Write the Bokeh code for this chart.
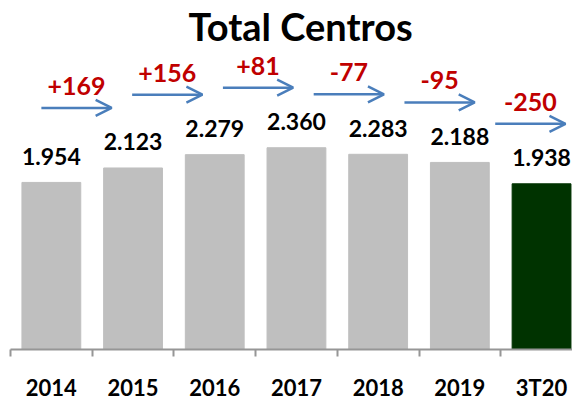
from bokeh.plotting import figure
from bokeh.models import Range1d, FixedTicker, ColumnDataSource, Arrow, OpenHead
from bokeh.core.properties import value
from bokeh.embed import file_html
from bokeh.resources import INLINE

# ---- data ----
categories = ["2014", "2015", "2016", "2017", "2018", "2019", "3T20"]
centros = [1954, 2123, 2279, 2360, 2283, 2188, 1938]
highlight = "3T20"

# ---- styling / layout ----
GRAY = "#BFBFBF"
GREEN = "#003300"
BLUE = "#4A7EBB"
RED = "#C00000"
AXIS_GRAY = "#969696"
FONT = "Lato"

PX_PER_CAT = 81.7
PX_PER_UNIT = 0.0855
FRAME_W = 562
FRAME_H = 301

n = len(categories)
xs = list(range(n))
colors = [GREEN if c == highlight else GRAY for c in categories]
labels = [f"{v:,}".replace(",", ".") for v in centros]
changes = [centros[i + 1] - centros[i] for i in range(n - 1)]
change_txt = [f"{d:+d}" for d in changes]

# arrows between consecutive bars (layout)
a_x0 = [i * 1.111 - 0.122 for i in range(n - 1)]
a_x1 = [x + 0.86 for x in a_x0]
a_y = [centros[i + 1] + 60 / PX_PER_UNIT for i in range(n - 1)]
a_mid = [(a + b) / 2 for a, b in zip(a_x0, a_x1)]

p = figure(
    frame_width=FRAME_W, frame_height=FRAME_H,
    x_range=Range1d(-0.5, -0.5 + FRAME_W / PX_PER_CAT),
    y_range=Range1d(0, FRAME_H / PX_PER_UNIT),
    output_backend="svg", toolbar_location=None,
    y_axis_location=None,
    min_border_left=10, min_border_right=0, min_border_top=0, min_border_bottom=0,
    title="Total Centros",
)
p.title.text_font = FONT
p.title.text_font_size = "38px"
p.title.text_font_style = "bold"
p.title.text_color = "black"
p.title.align = "left"
p.title.offset = 178
p.title.standoff = 0

p.xgrid.visible = False
p.ygrid.visible = False
p.outline_line_color = None
p.background_fill_color = "white"
p.border_fill_color = "white"

bars = ColumnDataSource(dict(x=xs, top=centros, color=colors, label=labels))
p.vbar(x="x", top="top", width=0.72, color="color", source=bars)
p.text(x="x", y="top", text="label", source=bars, text_align="center",
       text_baseline="middle", y_offset=-26, text_font=value(FONT),
       text_font_size="23px", text_font_style="bold", text_color="black")

arr = ColumnDataSource(dict(x0=a_x0, x1=a_x1, y=a_y, mid=a_mid, txt=change_txt))
p.add_layout(Arrow(end=OpenHead(size=16, line_color=BLUE, line_width=2.5),
                   x_start="x0", y_start="y", x_end="x1", y_end="y",
                   line_color=BLUE, line_width=2.5, source=arr))
p.text(x="mid", y="y", text="txt", source=arr, text_align="center",
       text_baseline="middle", y_offset=-22, text_font=value(FONT),
       text_font_size="25px", text_font_style="bold", text_color=RED)

ax = p.xaxis[0]
ax.ticker = FixedTicker(ticks=xs, minor_ticks=[i - 0.5 for i in range(n + 1)])
ax.major_label_overrides = {i: c for i, c in enumerate(categories)}
ax.major_tick_out = 0
ax.major_tick_in = 0
ax.minor_tick_out = 7
ax.minor_tick_in = 0
ax.minor_tick_line_color = AXIS_GRAY
ax.minor_tick_line_width = 2
ax.axis_line_color = AXIS_GRAY
ax.axis_line_width = 2
ax.major_label_text_font = FONT
ax.major_label_text_font_size = "22px"
ax.major_label_text_font_style = "bold"
ax.major_label_text_color = "black"
ax.major_label_standoff = 17

open("out.html", "w").write(file_html(p, INLINE))
